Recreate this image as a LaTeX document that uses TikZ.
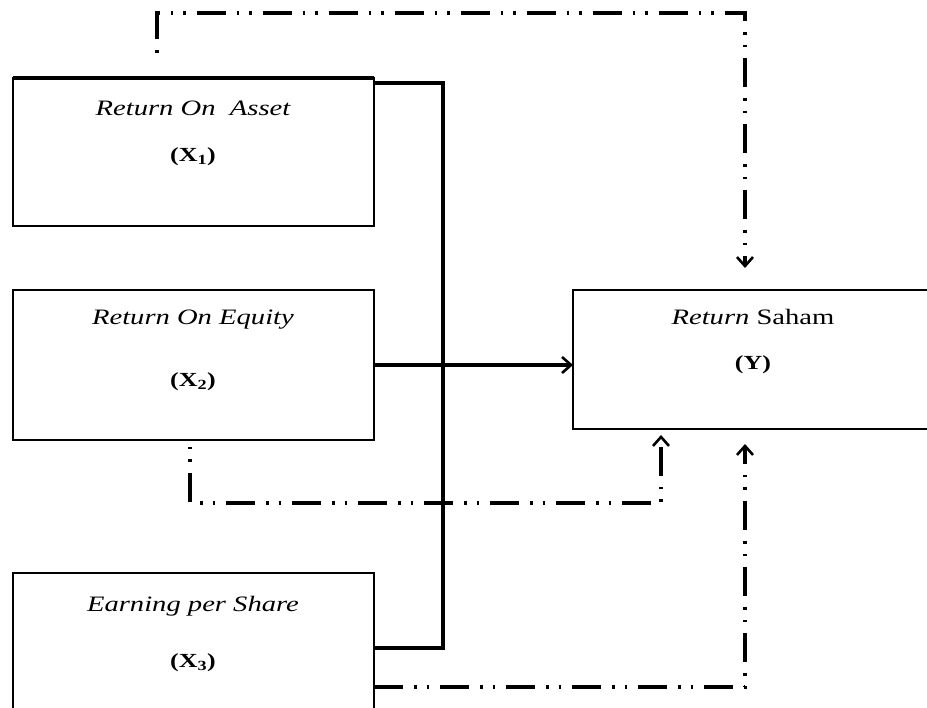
\documentclass[tikz,border=0pt]{standalone}
\usepackage{fontspec}
\setmainfont[FakeStretch=1.3]{Liberation Serif}
\usetikzlibrary{arrows.meta,calc}
\begin{document}
\begin{tikzpicture}[x=1pt,y=-1pt,
  box/.style={draw,line width=2.2pt,rectangle,inner sep=0pt,outer sep=0pt,anchor=north west},
  ttl/.style={font=\fontsize{22}{25}\selectfont\itshape,inner sep=0pt},
  ttlup/.style={font=\fontsize{22}{25}\selectfont,inner sep=0pt},
  var/.style={font=\fontsize{20}{23}\selectfont\bfseries,inner sep=0pt},
  solidc/.style={line width=3.2pt},
  ddot/.style={line width=3.2pt,dash pattern=on 29pt off 11pt on 2.5pt off 10pt on 2.5pt off 11pt},
  tip/.style={-{Straight Barb[length=9pt,width=16pt,line width=2.6pt]}}
]
\useasboundingbox (0,0) rectangle (927,708);
\clip (0,0) rectangle (927,708);

% boxes
\node[box,minimum width=361pt,minimum height=148pt] (x1) at (13,78) {};
\draw[line width=3.6pt] (x1.north west) -- (x1.north east);
\node[box,minimum width=361pt,minimum height=150pt] (x2) at (13,290) {};
\node[box,minimum width=361pt,minimum height=160pt] (x3) at (13,573) {};
\node[box,minimum width=360pt,minimum height=139pt] (y) at (573,290) {};

% texts
\node[ttl] (t1) at (193,108) {Return On\ \ Asset};
\node[var] (v1) at (193,157) {(X\textsubscript{1})};
\node[ttl] (t2) at (193,320) {Return On Equity};
\node[var] (v2) at (193,382) {(X\textsubscript{2})};
\node[ttl] (t3) at (193,606) {Earning per Share};
\node[var] (v3) at (193,663) {(X\textsubscript{3})};
\node[ttlup] (ty) at (753,317) {\textit{Return} Saham};
\node[var] (vy) at (753,365) {(Y)};

% solid connectors
\coordinate (j1) at (443,83);
\coordinate (j2) at (443,648);
\draw[solidc] (x1.east |- j1) -- (j1) -- (j2) -- (x3.east |- j2);
\draw[solidc,tip] (x2.east) -- (y.west |- x2.east);

% dash-dot connectors
\coordinate (a0) at (157,53);
\coordinate (a1) at (157,13);
\coordinate (a2) at (745,13);
\coordinate (a3) at (745,268);
\draw[ddot,dash phase=52.5pt,tip] (a0) -- (a1) -- (a2) -- (a3);

\coordinate (b0) at (190,447);
\coordinate (b1) at (190,503);
\coordinate (b2) at (661,503);
\coordinate (b3) at (661,435);
\draw[ddot,dash phase=40pt,tip] (b0) -- (b1) -- (b2) -- (b3);

\coordinate (c0) at (745,687);
\coordinate (c1) at (745,444);
\draw[ddot,tip] (x3.east |- c0) -- (c0) -- (c1);
\end{tikzpicture}
\end{document}
